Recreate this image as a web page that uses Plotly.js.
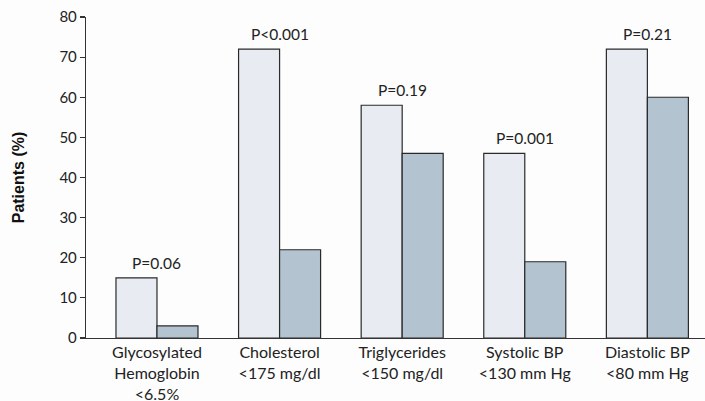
<!DOCTYPE html>
<html>
<head>
<meta charset="utf-8">
<script src="https://cdn.plot.ly/plotly-3.0.1.min.js"></script>
<style>
  html, body { margin: 0; padding: 0; background: #fdfdfd; }
  #chart { width: 705px; height: 401px; }
</style>
</head>
<body>
<div id="chart"></div>
<script>
// Share of patients meeting each treatment target, two groups per target
const categories = [
  "Glycosylated<br>Hemoglobin<br>&lt;6.5%",
  "Cholesterol<br>&lt;175 mg/dl",
  "Triglycerides<br>&lt;150 mg/dl",
  "Systolic BP<br>&lt;130 mm Hg",
  "Diastolic BP<br>&lt;80 mm Hg"
];
const groupA = [15, 72, 58, 46, 72];
const groupB = [3, 22, 46, 19, 60];
const pLabels = ["P=0.06", "P<0.001", "P=0.19", "P=0.001", "P=0.21"];
const yTicks = [0, 10, 20, 30, 40, 50, 60, 70, 80];

const idx = categories.map((_, i) => i);
const fontFamily = "Lato, 'Open Sans', sans-serif";
const tickFont = { family: fontFamily, size: 15, color: "#222" };
const catFont = { family: fontFamily, size: 16, color: "#222" };
const pFont = { family: fontFamily, size: 15.5, color: "#222" };

const traces = [
  {
    type: "bar", x: idx, y: groupA, name: "A",
    marker: { color: "#e8ecf2", line: { color: "#2a2a2a", width: 1.2 } },
    hoverinfo: "skip"
  },
  {
    type: "bar", x: idx, y: groupB, name: "B",
    marker: { color: "#b4c3d0", line: { color: "#2a2a2a", width: 1.2 } },
    hoverinfo: "skip"
  }
];

// P-values sit just above the taller (first) bar of each pair, centred on the pair
const annotations = idx.map(i => ({
  x: i, y: Math.max(groupA[i], groupB[i]),
  xref: "x", yref: "y",
  text: pLabels[i], showarrow: false,
  yanchor: "bottom", yshift: 4,
  font: pFont
}));

const layout = {
  width: 705, height: 401,
  margin: { l: 86, r: 0, t: 17, b: 63 },
  paper_bgcolor: "#fdfdfd",
  plot_bgcolor: "#fdfdfd",
  showlegend: false,
  barmode: "group",
  bargap: 0.331,
  bargroupgap: 0,
  xaxis: {
    range: [-0.579, 4.47],
    tickvals: idx, ticktext: categories,
    showline: true, linecolor: "#333", linewidth: 1.2,
    ticks: "", showgrid: false, zeroline: false,
    tickfont: catFont
  },
  yaxis: {
    range: [0, 80],
    tickvals: yTicks,
    showline: true, linecolor: "#333", linewidth: 1.2,
    ticks: "outside", ticklen: 5, tickcolor: "#333", tickwidth: 1.2,
    showgrid: false, zeroline: false,
    tickfont: tickFont,
    title: {
      text: "Patients (%)",
      font: { family: "'Liberation Sans', Arial, sans-serif", size: 16, color: "#111", weight: "bold" },
      standoff: 30
    }
  },
  annotations: annotations
};

Plotly.newPlot("chart", traces, layout, { displayModeBar: false, staticPlot: true });
</script>
</body>
</html>
